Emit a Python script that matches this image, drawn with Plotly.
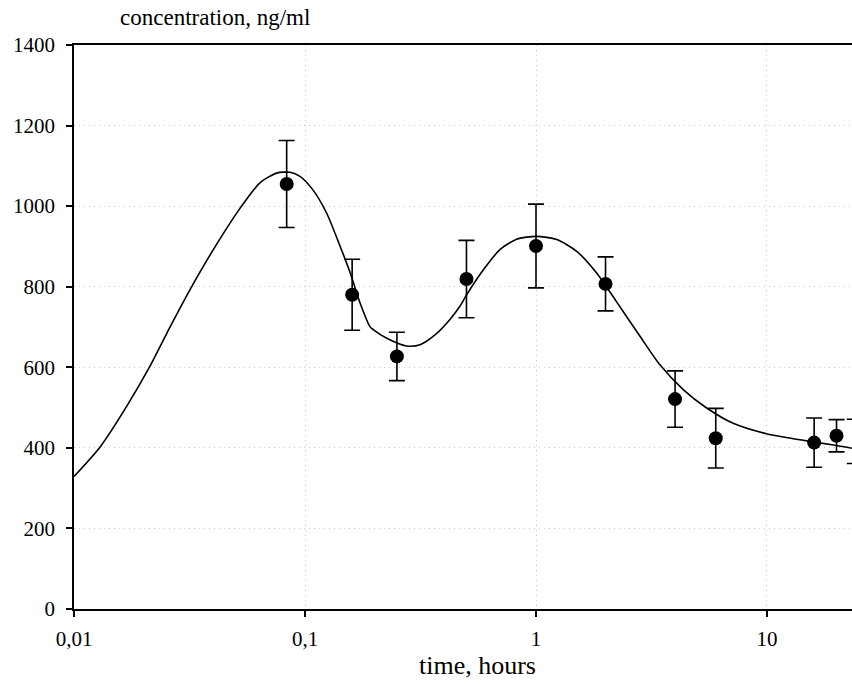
import plotly.graph_objects as go

# Measured concentrations (mean ± SD)
time_h = [0.0833, 0.16, 0.25, 0.5, 1, 2, 4, 6, 16, 20, 24]
conc = [1055, 780, 627, 819, 901, 807, 521, 424, 413, 430, 416]
conc_sd = [108, 88, 60, 96, 104, 67, 70, 74, 61, 40, 55]

# Fitted model curve
fit_time = [0.0100, 0.0130, 0.0169, 0.0213, 0.0261, 0.0318, 0.0401, 0.0524,
            0.0638, 0.0753, 0.0861, 0.0951, 0.108, 0.124, 0.142, 0.157,
            0.173, 0.191, 0.198, 0.226, 0.275, 0.315, 0.372, 0.425, 0.469,
            0.501, 0.592, 0.698, 0.824, 1.007, 1.23, 1.50, 1.83, 2.23, 2.82,
            3.44, 4.35, 5.48, 7.14, 9.95, 13.9, 19.4, 23.3]
fit_conc = [329, 403, 503, 602, 701, 793, 892, 995,
            1058, 1082, 1084, 1074, 1041, 983, 900, 834,
            760, 701, 693, 672, 653, 656, 684, 719, 752,
            780, 842, 892, 918, 925, 917, 888, 834, 763, 677,
            606, 544, 499, 461, 435, 420, 407, 399]

x_tick_vals = [0.01, 0.1, 1, 10]
x_tick_text = ["0,01", "0,1", "1", "10"]
y_tick_vals = [0, 200, 400, 600, 800, 1000, 1200, 1400]

FONT = "Liberation Serif"
TICKFONT = dict(family=FONT, size=21, color="black")
GRID = dict(showgrid=True, gridcolor="#c8c8c8", gridwidth=1, griddash="1px,4px")

fig = go.Figure()

fig.add_trace(go.Scatter(
    x=fit_time, y=fit_conc, mode="lines",
    line=dict(color="black", width=1.6, shape="spline", smoothing=0.7),
    hoverinfo="skip", showlegend=False,
))

fig.add_trace(go.Scatter(
    x=time_h, y=conc, mode="markers",
    marker=dict(color="black", size=14),
    error_y=dict(type="data", array=conc_sd, visible=True,
                 color="black", thickness=1.6, width=8),
    cliponaxis=False, showlegend=False,
))

fig.update_layout(
    width=852, height=688,
    margin=dict(l=74, r=0, t=45, b=79),
    paper_bgcolor="white", plot_bgcolor="white",
    font=dict(family=FONT, size=21, color="black"),
    xaxis=dict(
        type="log", range=[-2, 1.368],
        tickvals=x_tick_vals, ticktext=x_tick_text, tickfont=TICKFONT,
        ticks="outside", ticklen=6, tickwidth=1.5, tickcolor="black",
        ticklabelstandoff=4,
        showline=True, linecolor="black", linewidth=1.6, mirror=True,
        zeroline=False, **GRID,
    ),
    yaxis=dict(
        range=[0, 1400], tickvals=y_tick_vals, tickfont=TICKFONT,
        ticks="outside", ticklen=6, tickwidth=1.5, tickcolor="black",
        ticklabelstandoff=7,
        showline=True, linecolor="black", linewidth=1.6,
        zeroline=False, **GRID,
    ),
    annotations=[
        dict(text="concentration, ng/ml", xref="paper", yref="paper",
             x=0.0566, y=1.048, xanchor="left", yanchor="middle",
             showarrow=False, font=dict(family=FONT, size=23)),
        dict(text="time, hours", xref="paper", yref="paper",
             x=0.519, y=-0.1, xanchor="center", yanchor="middle",
             showarrow=False, font=dict(family=FONT, size=26)),
    ],
)

fig.write_html("out.html")
